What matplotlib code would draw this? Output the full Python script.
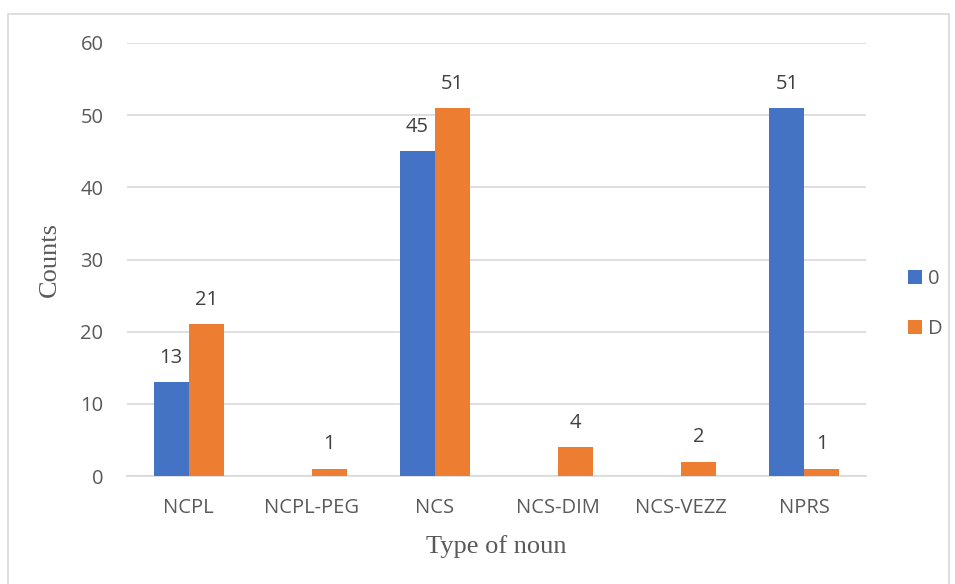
import matplotlib
matplotlib.use("Agg")
import matplotlib.pyplot as plt
import numpy as np
from matplotlib.patches import Rectangle

categories = ["NCPL", "NCPL-PEG", "NCS", "NCS-DIM", "NCS-VEZZ", "NPRS"]
series_names = ["0", "D"]
values_0 = [13, None, 45, None, None, 51]
values_D = [21, 1, 51, 4, 2, 1]
colors = ["#4472C4", "#ED7D31"]
y_ticks = [0, 10, 20, 30, 40, 50, 60]

fig = plt.figure(figsize=(9.55, 5.84), dpi=100)
fig.patches.append(Rectangle((8/955, -0.01), (949-8)/955, 1 - 14/584 + 0.01,
                             transform=fig.transFigure, fill=False,
                             edgecolor="#d9d9d9", linewidth=1.2))
ax = fig.add_axes([127/955, 1 - 476/584, (866-127)/955, (476-43)/584])

x = np.arange(len(categories))
w = 0.284
tick_font = "Open Sans"
fs = 14.5
for i, (name, vals) in enumerate(zip(series_names, [values_0, values_D])):
    off = (i - 0.5) * w
    xs = [xi + off for xi, v in zip(x, vals) if v is not None]
    vs = [v for v in vals if v is not None]
    bars = ax.bar(xs, vs, width=w, color=colors[i], label=name, zorder=3)
    for b, v in zip(bars, vs):
        ax.annotate(str(v), (b.get_x() + b.get_width()/2, v), xytext=(0, 17.5),
                    textcoords="offset points", ha="center", va="center",
                    fontsize=fs, color="#404040", family=tick_font)

ax.set_xlim(-0.5, len(categories) - 0.5)
ax.set_ylim(0, 60)
ax.set_yticks(y_ticks)
ax.set_xticks(x)
ax.set_xticklabels(categories)
ax.yaxis.grid(True, color="#d9d9d9", linewidth=1.2, zorder=0)
ax.set_axisbelow(True)
for s in ["top", "right", "left"]:
    ax.spines[s].set_visible(False)
ax.spines["bottom"].set_color("#d9d9d9")
ax.spines["bottom"].set_linewidth(1.2)
ax.tick_params(axis="both", length=0, labelsize=fs, labelcolor="#595959")
ax.tick_params(axis="y", pad=17)
ax.tick_params(axis="x", pad=16)
for lab in ax.get_xticklabels() + ax.get_yticklabels():
    lab.set_family(tick_font)

ax.set_xlabel("Type of noun", family="Liberation Serif", fontsize=19, color="#595959", labelpad=12)
ax.set_ylabel("Counts", family="Liberation Serif", fontsize=19, color="#595959", labelpad=14)

leg = fig.legend(loc="center left", bbox_to_anchor=(890/955, 1 - 304/584), frameon=False,
                 prop={"family": tick_font, "size": fs}, handlelength=0.7, handleheight=0.7,
                 labelspacing=1.45, handletextpad=0.3)
for t in leg.get_texts():
    t.set_color("#595959")

fig.savefig("out.png", dpi=100)
